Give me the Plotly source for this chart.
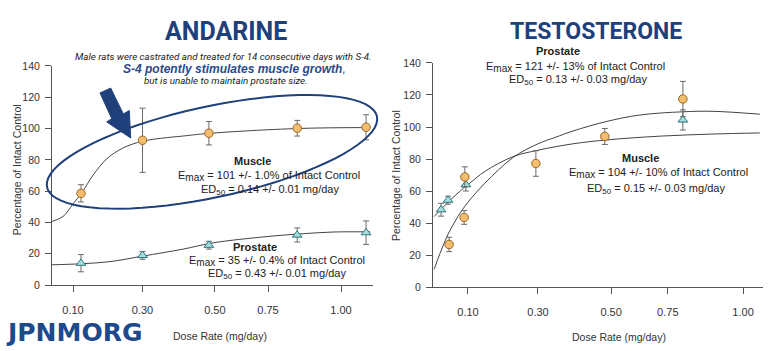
import plotly.graph_objects as go
import numpy as np

W, H = 774, 351

# ---------------- DATA ----------------
# Andarine (S-4) panel; x positions are on the drawn (non-uniform) dose axis
and_tick_pos = [0.10, 0.30, 0.508, 0.661, 0.871]
and_tick_text = ["0.10", "0.30", "0.50", "0.75", "1.00"]
and_x = [0.123, 0.300, 0.491, 0.745, 0.943]
and_muscle = [58.6, 92.5, 97.0, 100.2, 100.8]
and_muscle_err = [5.5, 20.5, 7.5, 5.0, 8.0]
and_prostate = [14.0, 19.0, 25.5, 32.0, 33.5]
and_prostate_err = [5.5, 2.5, 2.5, 4.5, 7.5]
and_muscle_fit_x = [0.0396, 0.0712, 0.100, 0.126, 0.158, 0.198, 0.244, 0.301, 0.379, 0.408, 0.491, 0.745, 0.955]
and_muscle_fit_y = [40.7, 43.8, 51.8, 59.2, 70.3, 80.8, 87.6, 91.9, 94.4, 95.0, 96.9, 100.0, 100.6]
and_prostate_fit_x = [0.0396, 0.120, 0.2065, 0.300, 0.417, 0.503, 0.658, 0.753, 0.848, 0.955]
and_prostate_fit_y = [13.0, 13.6, 15.0, 18.5, 23.0, 27.0, 31.0, 32.7, 33.9, 34.0]

# Testosterone panel
tes_tick_pos = [0.10, 0.30, 0.509, 0.671, 0.886]
tes_tick_text = ["0.10", "0.30", "0.50", "0.75", "1.00"]
tes_prostate_x = [0.046, 0.089, 0.091, 0.294, 0.491, 0.714]
tes_prostate = [26.6, 43.5, 68.8, 77.2, 94.1, 117.5]
tes_prostate_err = [4.5, 4.3, 6.3, 8.0, 5.0, 11.0]
tes_muscle_x = [0.023, 0.043, 0.094, 0.714]
tes_muscle = [48.3, 54.3, 64.0, 104.4]
tes_muscle_err = [4.0, 2.5, 4.0, 6.3]
tes_prostate_fit_x = [0.003, 0.020, 0.043, 0.071, 0.100, 0.149, 0.229, 0.300, 0.349, 0.400, 0.497, 0.591, 0.714, 0.800, 0.934]
tes_prostate_fit_y = [11.0, 21.0, 33.0, 44.0, 53.0, 65.0, 81.0, 89.5, 93.5, 97.5, 103.5, 107.5, 109.5, 109.8, 108.0]
tes_muscle_fit_x = [0.003, 0.025, 0.050, 0.075, 0.100, 0.150, 0.229, 0.300, 0.400, 0.500, 0.650, 0.800, 0.934]
tes_muscle_fit_y = [44.0, 49.0, 54.5, 59.5, 64.0, 72.5, 81.5, 85.5, 89.5, 92.0, 94.3, 95.6, 96.3]

y_ticks = [0, 20, 40, 60, 80, 100, 120, 140]

# ---------------- STYLE ----------------
NAVY = "#20407c"
AX = "#555555"
FONT = "Liberation Sans, Arial, sans-serif"
TITLE_FONT = "Roboto, Liberation Sans, sans-serif"
CIRC_FILL = "#f5bd6e"
CIRC_LINE = "#9a6628"
TRI_FILL = "#a6dcd9"
TRI_LINE = "#2c7880"
ERR = "#6a6a6a"
FIT = "#444444"


def px(x):
    return x / W


def py(y):
    return 1 - y / H


fig = go.Figure()


def add_fit(x, y, xa, ya):
    fig.add_trace(go.Scatter(x=x, y=y, mode="lines", xaxis=xa, yaxis=ya,
                             line=dict(color=FIT, width=1, shape="spline", smoothing=1.0),
                             hoverinfo="skip"))


def add_pts(x, y, e, xa, ya, sym, fill, edge):
    fig.add_trace(go.Scatter(x=x, y=y, mode="markers", xaxis=xa, yaxis=ya,
                             error_y=dict(type="data", array=e, color=ERR, thickness=1, width=3),
                             marker=dict(symbol=sym, size=8.5, color=fill, line=dict(color=edge, width=1))))


# left panel
add_fit(and_muscle_fit_x, and_muscle_fit_y, "x", "y")
add_fit(and_prostate_fit_x, and_prostate_fit_y, "x", "y")
add_pts(and_x, and_prostate, and_prostate_err, "x", "y", "triangle-up", TRI_FILL, TRI_LINE)
add_pts(and_x, and_muscle, and_muscle_err, "x", "y", "circle", CIRC_FILL, CIRC_LINE)

# right panel
add_fit(tes_prostate_fit_x, tes_prostate_fit_y, "x2", "y2")
add_fit(tes_muscle_fit_x, tes_muscle_fit_y, "x2", "y2")
add_pts(tes_muscle_x, tes_muscle, tes_muscle_err, "x2", "y2", "triangle-up", TRI_FILL, TRI_LINE)
add_pts(tes_prostate_x, tes_prostate, tes_prostate_err, "x2", "y2", "circle", CIRC_FILL, CIRC_LINE)

axis_common = dict(showline=True, linecolor=AX, linewidth=1, showgrid=False, zeroline=False,
                   ticks="outside", tickcolor=AX, ticklen=6, tickwidth=1)

fig.update_layout(
    width=W, height=H, margin=dict(l=0, r=0, t=0, b=0),
    paper_bgcolor="white", plot_bgcolor="white", showlegend=False,
    font=dict(family=FONT, size=11, color="#222222"),
    xaxis=dict(domain=[px(52), px(373)], range=[0.0396, 0.963], tickvals=and_tick_pos,
               ticktext=and_tick_text, ticklabelstandoff=9, anchor="y",
               tickfont=dict(size=11, color="#333"), **axis_common),
    yaxis=dict(domain=[py(289), py(62)], range=[0, 140], tickvals=y_ticks, anchor="x",
               ticklabelstandoff=3, tickfont=dict(size=10.5, color="#333"), **axis_common),
    xaxis2=dict(domain=[px(433), px(763)], range=[0.0, 0.943], tickvals=tes_tick_pos,
                ticktext=tes_tick_text, ticklabelstandoff=9, anchor="y2",
                tickfont=dict(size=11, color="#333"), **axis_common),
    yaxis2=dict(domain=[py(291), py(59)], range=[0, 140], tickvals=y_ticks, anchor="x2",
                ticklabelstandoff=3, tickfont=dict(size=10.5, color="#333"), **axis_common),
)

ann = []


def text(x, y, s, size=11, color="#222222", family=FONT, angle=0, xanchor="center"):
    ann.append(dict(x=px(x), y=py(y), xref="paper", yref="paper", text=s, showarrow=False,
                    xanchor=xanchor, yanchor="middle", textangle=angle,
                    font=dict(size=size, color=color, family=family)))


SUB_MAX = 'E<sub><span style="font-size:10px">max</span></sub>'
SUB_50 = 'ED<sub><span style="font-size:8px">50</span></sub>'

# titles
text(226, 26, "<b>ANDARINE</b>", size=25, color=NAVY, family=TITLE_FONT)
text(596, 26, "<b>TESTOSTERONE</b>", size=23, color=NAVY, family=TITLE_FONT)
text(224, 52, "<i>Male rats were castrated and treated for 14 consecutive days with S-4.</i>", size=9.8, color="#222", family=TITLE_FONT)
text(234, 65, "<b><i>S-4 potently stimulates muscle growth</i></b><i>,</i>", size=12, color="#2a4a8c", family=FONT)
text(226, 77, "<i>but is unable to maintain prostate size.</i>", size=9.8, color="#222", family=TITLE_FONT)

# left annotations
text(252, 160, "<b>Muscle</b>", size=11)
text(269, 176, SUB_MAX + " = 101 +/- 1.0% of Intact Control", size=11)
text(270, 190, SUB_50 + " = 0.14 +/- 0.01 mg/day", size=11)
text(255, 250, "<b>Prostate</b>", size=11)
text(277, 264, SUB_MAX + " = 35 +/- 0.4% of Intact Control", size=11)
text(277, 278, SUB_50 + " = 0.43 +/- 0.01 mg/day", size=11)

# right annotations
text(558, 47, "<b>Prostate</b>", size=11)
text(575, 63, SUB_MAX + " = 121 +/- 13% of Intact Control", size=11)
text(578, 77, SUB_50 + " = 0.13 +/- 0.03 mg/day", size=11)
text(640, 157, "<b>Muscle</b>", size=11)
text(658, 173, SUB_MAX + " = 104 +/- 10% of Intact Control", size=11)
text(656, 189, SUB_50 + " = 0.15 +/- 0.03 mg/day", size=11)

# axis titles
text(17, 170, "Percentage of Intact Control", size=10.5, color="#333", angle=-90)
text(396, 176, "Percentage of Intact Control", size=10.5, color="#333", angle=-90)
text(220, 342, "Dose Rate (mg/day)", size=10.5, color="#333")
text(619, 343, "Dose Rate (mg/day)", size=10.5, color="#333")

# logo
text(4, 338, "<b>JPNMORG</b>", size=25, color="#1d4a8c", family="DejaVu Sans, sans-serif", xanchor="left")

fig.update_layout(annotations=ann)

# ellipse highlight
cx, cy, a, b, th = 212.0, 151.0, 169.0, 47.0, np.deg2rad(12.6)
t = np.linspace(0, 2 * np.pi, 80)
ex = cx + a * np.cos(t) * np.cos(th) + b * np.sin(t) * np.sin(th)
ey = cy - a * np.cos(t) * np.sin(th) + b * np.sin(t) * np.cos(th)
path = "M " + " L ".join(f"{px(u):.5f},{py(v):.5f}" for u, v in zip(ex, ey)) + " Z"

# arrow polygon (pixels)
arrow = [(100, 90), (110.7, 85), (123.3, 111.7), (129.3, 108.3), (130.7, 136.7), (106.7, 120), (111.7, 116.7)]
apath = "M " + " L ".join(f"{px(u):.5f},{py(v):.5f}" for u, v in arrow) + " Z"

fig.update_layout(shapes=[
    dict(type="path", path=path, xref="paper", yref="paper", line=dict(color=NAVY, width=2)),
    dict(type="path", path=apath, xref="paper", yref="paper", line=dict(color=NAVY, width=1),
         fillcolor=NAVY),
])

fig.write_html("out.html")
